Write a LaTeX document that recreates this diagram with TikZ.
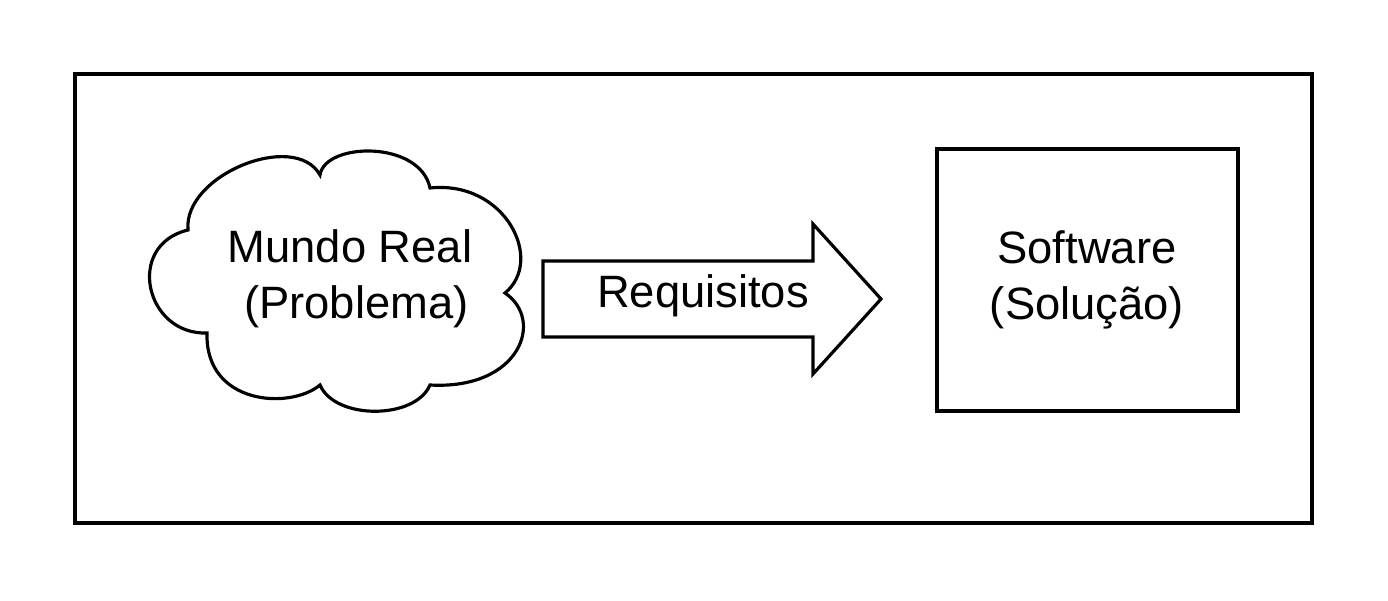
\documentclass[tikz,border=0pt]{standalone}
\usepackage{fontspec}
\setmainfont{Liberation Sans}
\usepackage{tikz}

\begin{document}
\begin{tikzpicture}[x=0.01cm,y=-0.01cm,line width=0.9pt,
  label/.style={align=center,font=\fontsize{12.9}{15.9}\selectfont,inner sep=0pt}]
\useasboundingbox (0,0) rectangle (1388,600);
\draw (75,74) rectangle (1312,523);
\draw (188,230) .. controls (183,175) and (295,130) .. (320,175)
  .. controls (325,142) and (420,140) .. (430,188)
  .. controls (505,180) and (545,260) .. (505,293)
  .. controls (545,320) and (520,390) .. (430,385)
  .. controls (415,420) and (335,420) .. (320,385)
  .. controls (290,410) and (205,405) .. (207,333)
  .. controls (145,335) and (125,245) .. (188,230) -- cycle;
\node [label] (mundo) at (350,279) {Mundo Real\\\mbox{} (Problema)};
\draw (543,261) -- (813,261) -- (813,224) -- (881,299) -- (813,374) -- (813,337) -- (543,337) -- cycle;
\node [label,anchor=base] (req) at (703,307) {Requisitos};
\draw (937,149) rectangle (1238,411);
\node [label] (soft) at (1087,280) {Software\\(Solução)};
\end{tikzpicture}
\end{document}
